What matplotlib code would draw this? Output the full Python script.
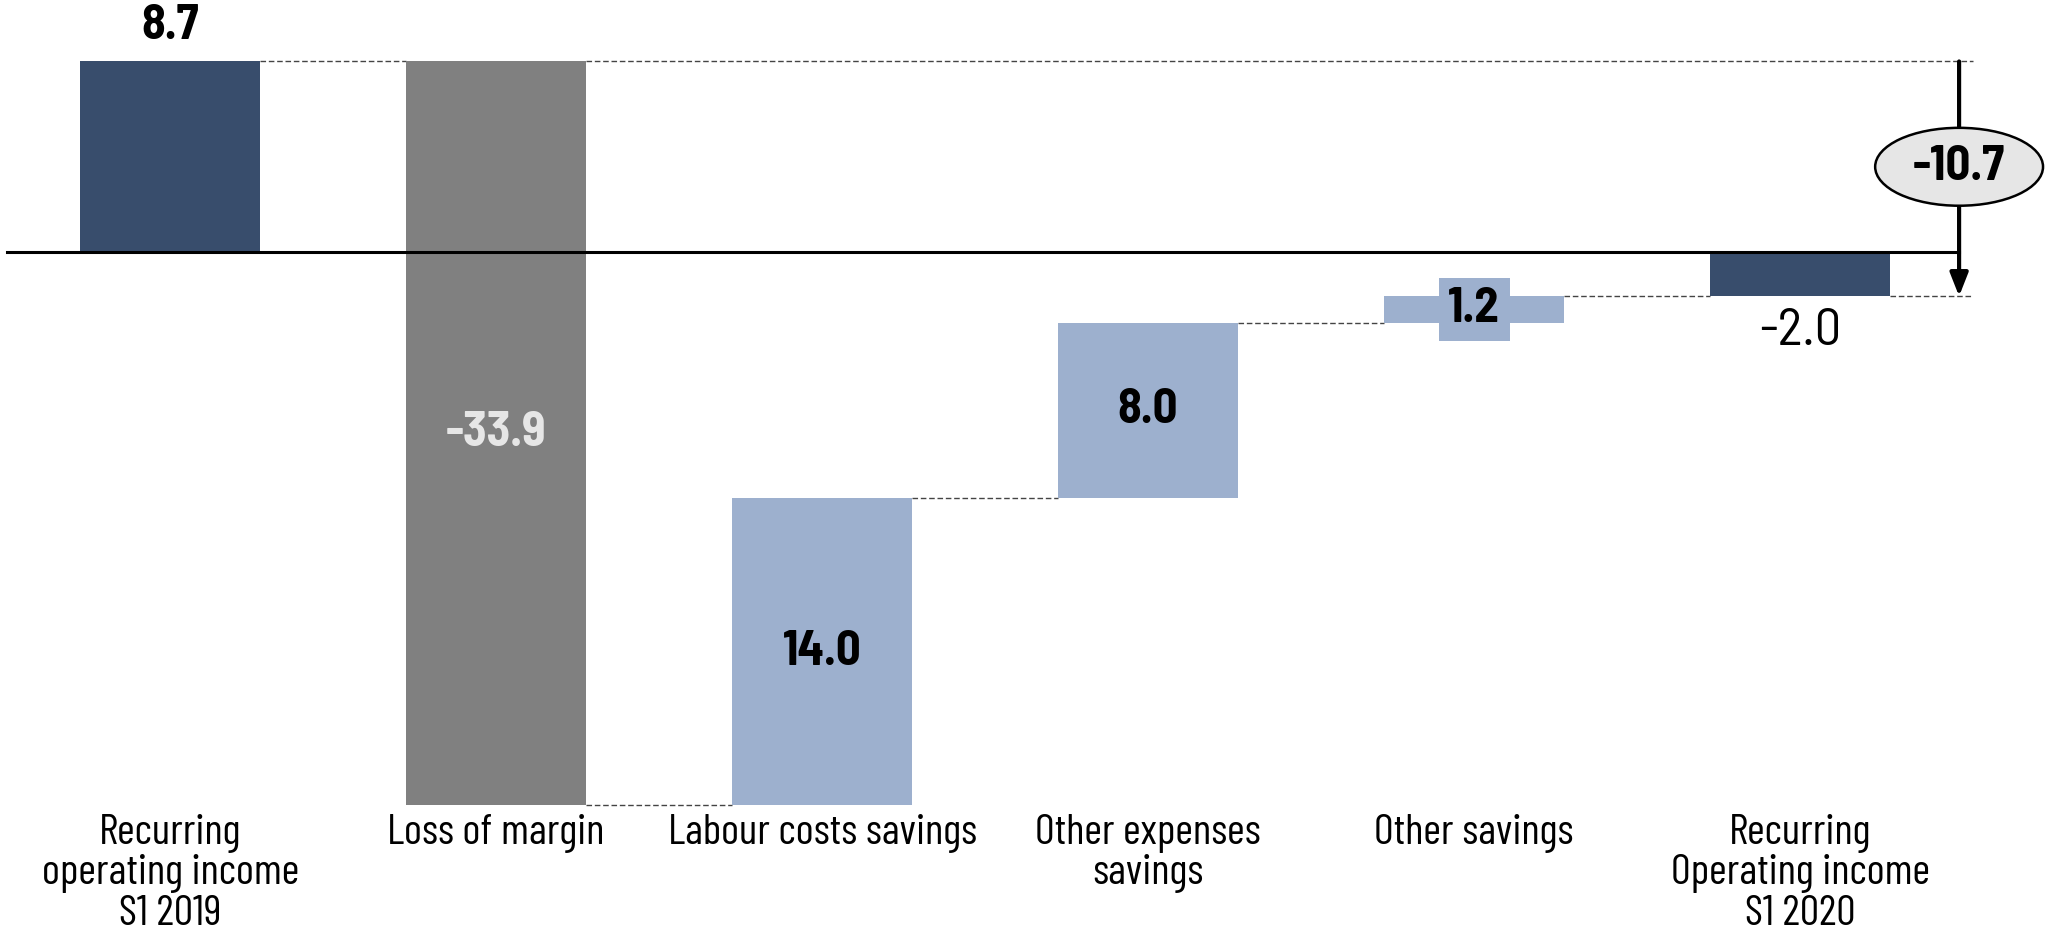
import numpy as np
import matplotlib.pyplot as plt
from matplotlib.patches import Ellipse

categories = ['Recurring\noperating income\nS1 2019', 'Loss of margin', 'Labour costs savings',
              'Other expenses\nsavings', 'Other savings', 'Recurring\nOperating income\nS1 2020']
values = [8.7, -33.9, 14.0, 8.0, 1.2, -2.0]
is_total = [True, False, False, False, False, True]
change_label = '-10.7'

navy = '#384d6c'
grey = '#808080'
light_blue = '#9db0ce'

plt.rcParams['font.family'] = ['Barlow Condensed', 'DejaVu Sans']
num_font = ['Barlow Semi Condensed', 'Barlow Condensed', 'DejaVu Sans']

fig = plt.figure(figsize=(20.52, 9.39), dpi=100)
ax = fig.add_axes([0, 0, 1, 1])
ax.set_xlim(-0.522, 5.773)
ax.set_ylim(-31.29, 11.50)
ax.axis('off')

x = np.arange(len(values))
width = 0.553

# bottoms / heights of the waterfall pieces
bottoms = []
heights = []
colors = []
running = 0.0
for v, tot in zip(values, is_total):
    if tot:
        bottoms.append(0.0)
        heights.append(v)
        colors.append(navy)
        running = v
    else:
        bottoms.append(running)
        heights.append(v)
        colors.append(grey if v < 0 else light_blue)
        running += v
tops = [b + h for b, h in zip(bottoms, heights)]

ax.bar(x, heights, width, bottom=bottoms, color=colors, zorder=2)

arrow_x = 5.488
line_end = 5.53

# zero line
ax.plot([-0.5, arrow_x], [0, 0], color='black', lw=2.2, zorder=3)

# dashed connectors
dash = dict(color='#444444', lw=1, ls=(0, (4, 2)), zorder=1)
for i in range(len(values) - 1):
    level = tops[i]
    x0 = x[i] + width / 2
    x1 = x[i + 1] - width / 2
    ax.plot([x0, x1], [level, level], **dash)
ax.plot([x[1] + width / 2, line_end], [values[0], values[0]], **dash)
ax.plot([x[-1] + width / 2, line_end], [values[-1], values[-1]], **dash)

# overall change arrow
ax.annotate('', xy=(arrow_x, values[-1]), xytext=(arrow_x, values[0]),
            arrowprops=dict(arrowstyle='-|>,head_length=1.4,head_width=0.55', color='black',
                            lw=3, shrinkA=0, shrinkB=0), zorder=4)
ax.add_patch(Ellipse((arrow_x, 3.9), 0.515, 3.55, facecolor='#e6e6e6', edgecolor='black',
                     lw=1.8, zorder=5))
ax.text(arrow_x, 3.9, change_label, ha='center', va='center', fontsize=35,
        fontweight='bold', family=num_font, zorder=6)

# value labels
ax.text(x[0], 10.3, f'{values[0]:.1f}', ha='center', va='center', fontsize=35,
        fontweight='bold', family=num_font)
ax.text(x[1], bottoms[1] + heights[1] / 2, f'{values[1]:.1f}', ha='center', va='center',
        fontsize=35, fontweight='bold', family=num_font, color='#e6e6e6')
for i in (2, 3):
    ax.text(x[i], bottoms[i] + heights[i] / 2, f'{values[i]:.1f}', ha='center', va='center',
            fontsize=35, fontweight='bold', family=num_font)
ax.text(x[4], bottoms[4] + heights[4] / 2, f'{values[4]:.1f}', ha='center', va='center',
        fontsize=35, fontweight='bold', family=num_font, zorder=4,
        bbox=dict(boxstyle='square,pad=0.2', facecolor=light_blue, edgecolor='none'))
ax.text(x[5], -3.6, f'{values[5]:.1f}', ha='center', va='center', fontsize=38, family=num_font)

# category labels
for xi, cat in zip(x, categories):
    ax.text(xi, -25.6, cat, ha='center', va='top', fontsize=31, linespacing=1.04)

fig.savefig('out.png', dpi=100)
